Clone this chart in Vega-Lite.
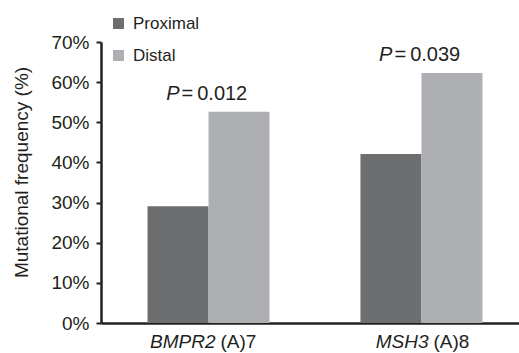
{
  "$schema": "https://vega.github.io/schema/vega-lite/v6.json",
  "width": 418,
  "height": 281,
  "autosize": {"type": "none"},
  "padding": {"left": 101, "top": 42, "right": 0, "bottom": 30},
  "background": "white",
  "config": {"view": {"stroke": null}, "font": "Liberation Sans"},
  "datasets": {
    "bars": [
      {"gene": "BMPR2", "group": "Proximal", "value": 0.291},
      {"gene": "BMPR2", "group": "Distal", "value": 0.526},
      {"gene": "MSH3", "group": "Proximal", "value": 0.421},
      {"gene": "MSH3", "group": "Distal", "value": 0.623}
    ],
    "genes": [
      {"gene": "BMPR2", "name": "BMPR2", "suffix": "(A)7", "p": "=\u20090.012"},
      {"gene": "MSH3", "name": "MSH3", "suffix": "(A)8", "p": "=\u20090.039"}
    ]
  },
  "layer": [
    {
      "data": {"name": "bars"},
      "mark": {"type": "bar"},
      "encoding": {
        "x": {
          "field": "gene", "type": "nominal",
          "scale": {"type": "band", "domain": ["BMPR2", "MSH3"], "paddingInner": 0.427, "paddingOuter": 0.195, "align": 0.56},
          "axis": {"labels": false, "ticks": false, "title": null, "domainColor": "#231f20", "domainWidth": 2.5}
        },
        "xOffset": {
          "field": "group", "type": "nominal",
          "scale": {"domain": ["Proximal", "Distal"], "paddingInner": 0, "paddingOuter": 0}
        },
        "y": {
          "field": "value", "type": "quantitative",
          "scale": {"domain": [0, 0.7], "nice": false, "zero": true},
          "axis": {
            "format": ".0%",
            "values": [0, 0.1, 0.2, 0.3, 0.4, 0.5, 0.6, 0.7],
            "grid": false,
            "domainColor": "#231f20", "domainWidth": 2.5,
            "tickColor": "#231f20", "tickWidth": 2, "tickSize": 5,
            "labelFontSize": 19, "labelColor": "#231f20", "labelPadding": 7,
            "title": "Mutational frequency (%)",
            "titleFontSize": 19, "titleFontWeight": "normal", "titleColor": "#231f20",
            "titleX": -74, "titleY": 130, "titleBaseline": "alphabetic"
          }
        },
        "color": {
          "field": "group", "type": "nominal",
          "scale": {"domain": ["Proximal", "Distal"], "range": ["#6d6e70", "#aeafb2"]},
          "legend": {
            "orient": "none", "legendX": 9, "legendY": -27, "title": null,
            "symbolType": "square", "symbolSize": 121, "symbolStrokeWidth": 0,
            "labelFontSize": 17, "labelColor": "#231f20", "rowPadding": 14, "labelOffset": 6, "padding": 0
          }
        }
      }
    },
    {
      "data": {"name": "bars"},
      "transform": [
        {"filter": "datum.group === 'Distal'"},
        {"lookup": "gene", "from": {"data": {"name": "genes"}, "key": "gene", "fields": ["p"]}}
      ],
      "mark": {"type": "text", "text": "P", "fontStyle": "italic", "fontSize": 20, "align": "right", "baseline": "alphabetic", "dx": -29, "dy": -12, "color": "#231f20"},
      "encoding": {
        "x": {"field": "gene", "type": "nominal"},
        "y": {"field": "value", "type": "quantitative"}
      }
    },
    {
      "data": {"name": "bars"},
      "transform": [
        {"filter": "datum.group === 'Distal'"},
        {"lookup": "gene", "from": {"data": {"name": "genes"}, "key": "gene", "fields": ["p"]}}
      ],
      "mark": {"type": "text", "fontSize": 20, "align": "left", "baseline": "alphabetic", "dx": -27, "dy": -12, "color": "#231f20"},
      "encoding": {
        "x": {"field": "gene", "type": "nominal"},
        "y": {"field": "value", "type": "quantitative"},
        "text": {"field": "p"}
      }
    },
    {
      "data": {"name": "genes"},
      "mark": {"type": "text", "fontStyle": "italic", "fontSize": 19, "align": "right", "baseline": "alphabetic", "dx": 7, "dy": 25, "color": "#231f20"},
      "encoding": {
        "x": {"field": "gene", "type": "nominal"},
        "y": {"datum": 0, "type": "quantitative"},
        "text": {"field": "name"}
      }
    },
    {
      "data": {"name": "genes"},
      "mark": {"type": "text", "fontSize": 19, "align": "left", "baseline": "alphabetic", "dx": 12, "dy": 25, "color": "#231f20"},
      "encoding": {
        "x": {"field": "gene", "type": "nominal"},
        "y": {"datum": 0, "type": "quantitative"},
        "text": {"field": "suffix"}
      }
    }
  ]
}
